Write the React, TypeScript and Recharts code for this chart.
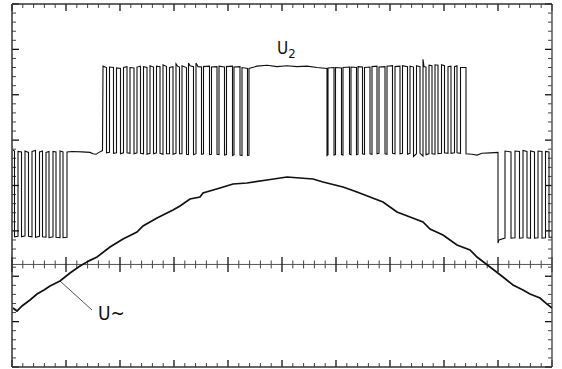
import React from 'react';
import { LineChart, Line, XAxis, YAxis, ReferenceLine, ReferenceDot } from 'recharts';

// time in samples (540 across the screen), amplitude in screen divisions (8 high)
const u2Trace: [number, number][] = [
  [1,4.78],[2.5,4.76],[2.5,2.87],[6,2.88],[6,4.75],[9.5,4.74],[9.5,2.87],[13,2.89],[13,4.76],[16.5,4.73],[16.5,2.88],[20,2.87],[20,4.75],[23.5,4.77],[23.5,2.86],[27.5,2.88],[27.5,4.74],[30.5,4.76],[30.5,2.87],[34,2.86],[34,4.73],[37,4.75],[37,2.85],[41,2.87],[41,4.75],[44,4.74],[44,2.86],[48,2.85],[48,4.76],[51,4.74],[51,2.85],[55,2.86],[55,4.74],
  [60,4.75],[70,4.74],[78,4.73],[81,4.70],[84,4.69],[87,4.73],[90.5,4.77],[91,6.63],
  [94.5,6.60],[94.5,4.72],[97.5,4.73],[97.5,6.61],
  [101.5,6.60],[101.5,4.71],[104.5,4.72],[104.5,6.59],
  [108.5,6.58],[108.5,4.70],[111.5,4.72],[111.5,6.60],
  [115,6.62],[115,4.72],[118,4.71],[118,6.60],
  [122,6.59],[122,4.70],[125,4.72],[125,6.61],
  [128.5,6.63],[128.5,4.71],[131.5,4.70],[131.5,6.62],
  [135,6.60],[135,4.69],[138,4.71],[138,6.64],
  [141.5,6.61],[141.5,4.70],[144.5,4.72],[144.5,6.63],
  [148,6.62],[148,4.71],[151,4.69],[151,6.66],
  [154.5,6.62],[154.5,4.70],[157.5,4.70],[157.5,6.60],
  [161,6.62],[161,4.69],[164,4.71],[164,6.68],[165.5,6.63],
  [167.5,6.61],[167.5,4.70],[170,4.70],[170,6.64],
  [174.5,6.60],[174.5,4.69],[176.5,4.68],[176.5,6.70],[178,6.64],
  [181.5,6.62],[181.5,4.68],[184,4.70],[184,6.70],[186,6.62],
  [189.5,6.61],[189.5,4.69],[191.5,4.70],[191.5,6.62],
  [197.5,6.63],[197.5,4.68],[199.5,4.69],[199.5,6.61],
  [205,6.62],[205,4.69],[207,4.68],[207,6.63],
  [212.5,6.61],[212.5,4.67],[214.5,4.68],[214.5,6.62],
  [220.5,6.63],[220.5,4.66],[222,4.68],[222,6.61],
  [228,6.62],[228,4.67],[230,4.66],[230,6.60],
  [235.5,6.58],[235.5,4.66],[237,4.67],[237,6.58],
  [245,6.63],[255,6.65],[265,6.62],[275,6.64],[285,6.62],[295,6.63],[305,6.60],[315,6.58],
  [315,4.66],[316,4.68],[316,6.59],
  [322,6.60],[322,4.67],[323.5,4.68],[323.5,6.60],
  [329.5,6.59],[329.5,4.68],[331,4.67],[331,6.60],
  [337.5,6.61],[337.5,4.69],[339,4.68],[339,6.61],
  [344.5,6.60],[344.5,4.68],[346,4.69],[346,6.62],
  [350.5,6.61],[350.5,4.70],[352.5,4.69],[352.5,6.60],
  [358,6.61],[358,4.70],[360,4.69],[360,6.62],
  [365,6.63],[365,4.70],[367,4.71],[367,6.61],
  [373,6.62],[373,4.70],[375,4.69],[375,6.63],
  [380.5,6.64],[380.5,4.71],[383,4.70],[383,6.62],
  [388,6.63],[388,4.70],[390.5,4.71],[390.5,6.64],
  [395.5,6.62],[395.5,4.69],[398,4.71],[398,6.63],
  [401.5,6.61],[401.5,4.64],[404.5,4.70],[404.5,6.64],
  [408,6.62],[408,4.71],[411,4.65],[411,6.78],[412,6.62],
  [414,6.61],[414,4.68],[417,4.70],[417,6.65],
  [420,6.64],[420,4.70],[423,4.69],[423,6.66],
  [426,6.65],[426,4.70],[429.5,4.71],[429.5,6.66],
  [432.5,6.64],[432.5,4.72],[436,4.71],[436,6.62],
  [439,6.63],[439,4.71],[442.5,4.72],[442.5,6.62],
  [445,6.64],[445,4.72],[448.5,4.71],[448.5,6.60],
  [454,6.60],[454,4.70],
  [460,4.69],[465,4.67],[470,4.71],[478,4.72],[486,4.73],
  [486,2.73],[487,2.80],[493,2.84],[493,4.76],[499,4.74],[499,2.84],[503,2.85],[503,4.76],[507.5,4.75],[507.5,2.84],[511,2.85],[511,4.77],[515,4.75],[515,2.85],[518.5,2.84],[518.5,4.76],[522.5,4.74],[522.5,2.84],[526,2.85],[526,4.76],[530,4.75],[530,2.84],[533.5,2.85],[533.5,4.75],[537,4.74],[537,2.86],[540,2.86],
];

const uSine: [number, number][] = [
  [1,1.30],[5,1.234],[10,1.344],[18,1.477],[25,1.609],[32,1.697],[38,1.785],[44,1.85],[48,1.895],[58,2.072],[68,2.226],[78,2.35],[85,2.424],[98,2.645],[111,2.821],[125,2.975],[131,3.107],[145,3.284],[161,3.46],[168,3.548],[178,3.702],[188,3.747],[191,3.835],[208,3.945],[221,4.033],[235,4.055],[255,4.121],[275,4.187],[301,4.143],[311,4.077],[331,3.967],[345,3.857],[358,3.747],[371,3.636],[385,3.416],[398,3.306],[411,3.196],[418,3.041],[431,2.909],[445,2.689],[458,2.579],[465,2.424],[478,2.204],[491,1.983],[501,1.807],[511,1.697],[518,1.609],[528,1.521],[535,1.388],[540,1.30],
];

const xMajorTicks = [0, 54, 108, 162, 216, 270, 324, 378, 432, 486, 540];
const yMajorTicks = [0, 1, 2, 3, 4, 5, 6, 7, 8];
const axisLevel = 2.26;
const u2Label = { t: 265, v: 6.9, text: 'U', sub: '2' };
const uSineLabel = { t: 86, v: 1.04, text: 'U~' };
const leader: [number, number][] = [[48, 1.895], [80, 1.256]];

const W = 562;
const H = 369;
const M = { top: 4, right: 10, bottom: 2, left: 12 };
const plotH = H - M.top - M.bottom;
const yPerPx = 8 / plotH;

const xMinor: number[] = [];
xMajorTicks.forEach((t, i) => {
  if (i < xMajorTicks.length - 1) {
    const step = (xMajorTicks[i + 1] - t) / 5;
    for (let k = 1; k < 5; k++) xMinor.push(t + k * step);
  }
});
const yMinor: number[] = [];
yMajorTicks.forEach((v, i) => {
  if (i < yMajorTicks.length - 1) {
    for (let k = 1; k < 5; k++) yMinor.push(v + k * 0.2);
  }
});

const u2Data = u2Trace.map(([t, v]) => ({ t, v }));
const sineData = uSine.map(([t, v]) => ({ t, v }));

const FONT = '"Liberation Sans Narrow", "DejaVu Sans Condensed", "Liberation Sans", Arial, sans-serif';

export default function App() {
  const minorLen = 4;
  const majorLen = 7;
  const tickEls: React.ReactNode[] = [];
  let key = 0;
  const seg = (a: { x: number; y: number }, b: { x: number; y: number }, major: boolean) => {
    tickEls.push(
      <ReferenceLine
        key={key++}
        segment={[a, b]}
        stroke={major ? '#111' : '#444'}
        strokeWidth={major ? 1.3 : 1}
        ifOverflow="visible"
      />
    );
  };
  const xs = [...xMajorTicks.map((t) => ({ t, major: true })), ...xMinor.map((t) => ({ t, major: false }))];
  const ys = [...yMajorTicks.map((v) => ({ v, major: true })), ...yMinor.map((v) => ({ v, major: false }))];
  xs.forEach(({ t, major }) => {
    const l = (major ? majorLen : minorLen) * yPerPx;
    seg({ x: t, y: 8 }, { x: t, y: 8 - l }, major);
    seg({ x: t, y: 0 }, { x: t, y: l }, major);
    const m = (major ? 7.5 : 4) * yPerPx;
    seg({ x: t, y: axisLevel - m }, { x: t, y: axisLevel + m }, major);
  });
  ys.forEach(({ v, major }) => {
    const l = major ? majorLen : minorLen;
    seg({ x: 0, y: v }, { x: l, y: v }, major);
    seg({ x: 540, y: v }, { x: 540 - l, y: v }, major);
  });

  return (
    <div style={{ position: 'absolute', left: 0, top: 0, background: '#fff' }}>
      <LineChart width={W} height={H} margin={M}>
        <XAxis type="number" dataKey="t" domain={[0, 540]} hide allowDataOverflow />
        <YAxis type="number" dataKey="v" domain={[0, 8]} hide allowDataOverflow />
        <ReferenceLine y={axisLevel} stroke="#555" strokeWidth={1} />
        {tickEls}
        <ReferenceLine x={0} stroke="#333" strokeWidth={1.5} />
        <ReferenceLine x={540} stroke="#555" strokeWidth={1.5} />
        <ReferenceLine y={8} stroke="#333" strokeWidth={1.5} />
        <ReferenceLine y={0} stroke="#333" strokeWidth={1.5} />
        <ReferenceLine segment={[{ x: leader[0][0], y: leader[0][1] }, { x: leader[1][0], y: leader[1][1] }]} stroke="#555" strokeWidth={1} />
        <Line data={u2Data} dataKey="v" type="linear" stroke="#111" strokeWidth={1.1} dot={false} isAnimationActive={false} />
        <Line data={sineData} dataKey="v" type="linear" stroke="#111" strokeWidth={1.7} dot={false} isAnimationActive={false} />
        <ReferenceDot
          x={u2Label.t}
          y={u2Label.v}
          r={0}
          shape={(p: any) => (
            <text x={p.cx} y={p.cy} fontFamily={FONT} fontSize={17} fill="#111">
              {u2Label.text}
              <tspan dy={4} fontSize={13}>{u2Label.sub}</tspan>
            </text>
          )}
        />
        <ReferenceDot
          x={uSineLabel.t}
          y={uSineLabel.v}
          r={0}
          shape={(p: any) => (
            <text x={p.cx} y={p.cy} fontFamily={FONT} fontSize={19} fill="#111">
              {uSineLabel.text}
            </text>
          )}
        />
      </LineChart>
    </div>
  );
}
